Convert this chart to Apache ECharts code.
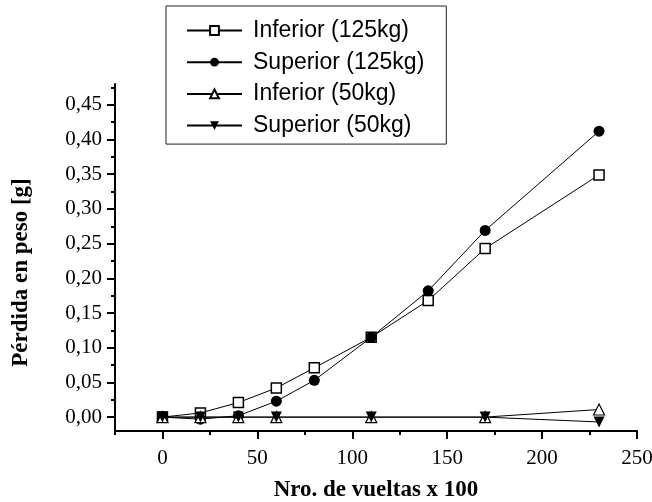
<!DOCTYPE html>
<html>
<head>
<meta charset="utf-8">
<script src="https://cdn.jsdelivr.net/npm/echarts@6/dist/echarts.min.js"></script>
<style>
  html, body { margin: 0; padding: 0; background: #fff; }
  #chart { width: 652px; height: 502px; }
</style>
</head>
<body>
<div id="chart"></div>
<script>
// datos
var vueltas125 = [0, 20, 40, 60, 80, 110, 140, 170, 230];
var inferior125 = [0, 0.006, 0.021, 0.042, 0.071, 0.115, 0.168, 0.243, 0.349];
var superior125 = [0, -0.003, 0.002, 0.023, 0.053, 0.115, 0.182, 0.269, 0.412];

var vueltas50 = [0, 20, 40, 60, 110, 170, 230];
var inferior50 = [0, 0, 0, 0, 0, 0, 0.011];
var superior50 = [0, 0, 0, 0, 0, 0, -0.007];

var seriesNames = ['Inferior (125kg)', 'Superior (125kg)', 'Inferior (50kg)', 'Superior (50kg)'];

// marcas de los ejes
var xTicks = [0, 50, 100, 150, 200, 250];
var xMinorTicks = [-25, 25, 75, 125, 175, 225];
var yTicks = [0, 0.05, 0.10, 0.15, 0.20, 0.25, 0.30, 0.35, 0.40, 0.45];
var yMinorTicks = [0.025, 0.075, 0.125, 0.175, 0.225, 0.275, 0.325, 0.375, 0.425, 0.475];

function pares(xs, ys) {
    return xs.map(function (x, i) { return [x, ys[i]]; });
}

var myChart = echarts.init(document.getElementById('chart'));

var serif = 'Liberation Serif';
var xRange = { min: -25, max: 250 };
var yRange = { min: -0.02, max: 0.48 };

var option = {
    animation: false,
    backgroundColor: '#fff',
    grid: {
        left: 115,
        right: 15,
        top: 84,
        bottom: 71,
        outerBoundsMode: 'none'
    },
    legend: {
        orient: 'vertical',
        left: 166,
        top: 6,
        padding: [13, 22, 7, 20],
        borderColor: '#222',
        borderWidth: 1,
        itemWidth: 55,
        itemHeight: 11,
        itemGap: 8.7,
        textStyle: {
            fontFamily: 'Liberation Sans',
            fontSize: 23,
            color: '#000',
            padding: [0, 0, 0, 6]
        },
        data: seriesNames
    },
    xAxis: [{
        type: 'value',
        min: xRange.min,
        max: xRange.max,
        position: 'bottom',
        name: 'Nro. de vueltas x 100',
        nameLocation: 'middle',
        nameGap: 48,
        nameTextStyle: { fontFamily: serif, fontWeight: 'bold', fontSize: 23, color: '#000' },
        axisLine: { show: true, onZero: false, lineStyle: { color: '#000', width: 2 } },
        axisTick: { show: true, length: 8, lineStyle: { color: '#000', width: 2 }, customValues: xTicks },
        axisLabel: {
            fontFamily: serif, fontSize: 21, color: '#000', margin: 17,
            customValues: xTicks
        },
        splitLine: { show: false }
    }, {
        // marcas menores
        type: 'value',
        min: xRange.min,
        max: xRange.max,
        position: 'bottom',
        axisLine: { show: false, onZero: false },
        axisTick: { show: true, length: 4, lineStyle: { color: '#000', width: 2 }, customValues: xMinorTicks },
        axisLabel: { show: false },
        splitLine: { show: false }
    }],
    yAxis: [{
        type: 'value',
        min: yRange.min,
        max: yRange.max,
        position: 'left',
        name: 'Pérdida en peso [g]',
        nameLocation: 'middle',
        nameRotate: 90,
        nameGap: 82,
        nameTextStyle: { fontFamily: serif, fontWeight: 'bold', fontSize: 23, color: '#000', padding: [0, 30, 0, 0] },
        axisLine: { show: true, onZero: false, lineStyle: { color: '#000', width: 2 } },
        axisTick: { show: true, length: 8, lineStyle: { color: '#000', width: 2 }, customValues: yTicks },
        axisLabel: {
            fontFamily: serif, fontSize: 21, color: '#000', margin: 13,
            customValues: yTicks,
            formatter: function (v) { return v.toFixed(2).replace('.', ','); }
        },
        splitLine: { show: false }
    }, {
        type: 'value',
        min: yRange.min,
        max: yRange.max,
        position: 'left',
        axisLine: { show: false, onZero: false },
        axisTick: { show: true, length: 4, lineStyle: { color: '#000', width: 2 }, customValues: yMinorTicks },
        axisLabel: { show: false },
        splitLine: { show: false }
    }],
    series: [{
        name: seriesNames[0],
        type: 'line',
        data: pares(vueltas125, inferior125),
        symbol: 'rect',
        symbolSize: 10,
        lineStyle: { color: '#000', width: 1 },
        itemStyle: { color: '#fff', borderColor: '#000', borderWidth: 1.5 },
        z: 2
    }, {
        name: seriesNames[1],
        type: 'line',
        data: pares(vueltas125, superior125),
        symbol: 'circle',
        symbolSize: 11,
        lineStyle: { color: '#000', width: 1 },
        itemStyle: { color: '#000', borderColor: '#000', borderWidth: 0 },
        z: 3
    }, {
        name: seriesNames[2],
        type: 'line',
        data: pares(vueltas50, inferior50),
        symbol: 'triangle',
        symbolSize: 11,
        lineStyle: { color: '#000', width: 1 },
        itemStyle: { color: '#fff', borderColor: '#000', borderWidth: 1.2 },
        z: 4
    }, {
        name: seriesNames[3],
        type: 'line',
        data: pares(vueltas50, superior50),
        symbol: 'triangle',
        symbolRotate: 180,
        symbolSize: 11,
        lineStyle: { color: '#000', width: 1 },
        itemStyle: { color: '#000', borderColor: '#000', borderWidth: 0 },
        z: 5
    }]
};

myChart.setOption(option);

window.addEventListener('resize', function () {
    myChart.resize();
});
</script>
</body>
</html>
